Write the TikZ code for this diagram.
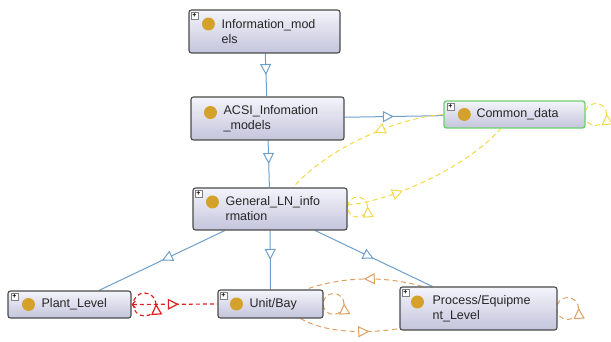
\documentclass[tikz,border=0pt]{standalone}
\usepackage{fontspec}
\setmainfont{Liberation Sans}
\usetikzlibrary{arrows.meta,decorations.markings,backgrounds,calc}
\definecolor{boxborder}{HTML}{4A4A4A}
\definecolor{boxtop}{HTML}{F4F4FB}
\definecolor{boxbot}{HTML}{C4C4DC}
\definecolor{dotgold}{HTML}{D4A12A}
\definecolor{edgeblue}{HTML}{6E9ECB}
\definecolor{ylw}{HTML}{F2D94A}
\definecolor{orng}{HTML}{DDA060}
\definecolor{redd}{HTML}{E32020}
\definecolor{cdgreen}{HTML}{6FD06F}
\begin{document}
\begin{tikzpicture}[x=1pt,y=-1pt,
  clsbox/.style={draw=boxborder, line width=1.1pt, rounded corners=2.5pt, top color=boxtop, bottom color=boxbot, inner sep=0pt},
  clstext/.style={anchor=west, align=left, inner sep=0pt, font=\fontsize{12.5}{15}\selectfont, text=black!85},
  dot/.style={circle, fill=dotgold, minimum size=13pt, inner sep=0pt},
  plusbox/.style={draw=gray, fill=white, minimum size=7pt, inner sep=0pt, font=\fontsize{7}{7}\selectfont\bfseries},
  midtri/.style={postaction={decorate,decoration={markings,mark=at position #1 with {\arrow[solid]{Triangle[fill=white,length=11pt,width=11pt]}}}}},
  isa/.style={draw=edgeblue, line width=1pt, midtri=0.5},
  ydash/.style={draw=ylw, line width=1pt, dash pattern=on 5pt off 3.5pt},
  odash/.style={draw=orng, line width=1pt, dash pattern=on 5pt off 3.5pt},
  rdash/.style={draw=redd, line width=1.2pt, dash pattern=on 4pt off 3pt}]
\useasboundingbox (0,0) rectangle (611,342);

% Information_models
\node[clsbox, minimum width=151pt, minimum height=43pt] (info) at (264.5,31.5) {};
\node[clstext] (infot) at ([xshift=33pt]info.west) {Information\_mod\\els};
\node[dot] (infod) at ([xshift=20pt,yshift=7.5pt]info.west) {};
\node[plusbox] (infop) at ([xshift=6pt,yshift=-6pt]info.north west) {+};

% ACSI
\node[clsbox, minimum width=153pt, minimum height=43pt] (acsi) at (267.5,118.5) {};
\node[clstext] (acsit) at ([xshift=33pt]acsi.west) {ACSI\_Infomation\\\_models};
\node[dot] (acsid) at ([xshift=20pt,yshift=6pt]acsi.west) {};

% Common_data
\node[clsbox, draw=cdgreen, line width=1.4pt, minimum width=141pt, minimum height=27pt] (cd) at (514.5,114.5) {};
\node[clstext] (cdt) at ([xshift=33pt]cd.west) {Common\_data};
\node[dot] (cdd) at ([xshift=21pt]cd.west) {};
\node[plusbox] (cdp) at ([xshift=7pt,yshift=-6pt]cd.north west) {+};

% General_LN_information
\node[clsbox, minimum width=154pt, minimum height=42pt] (gen) at (270,209) {};
\node[clstext] (gent) at ([xshift=33pt]gen.west) {General\_LN\_info\\rmation};
\node[dot] (gend) at ([xshift=20pt,yshift=7pt]gen.west) {};
\node[plusbox] (genp) at ([xshift=6pt,yshift=-6pt]gen.north west) {+};

% Plant_Level
\node[clsbox, minimum width=123pt, minimum height=27pt] (plant) at (69.5,304.5) {};
\node[clstext] (plantt) at ([xshift=34pt]plant.west) {Plant\_Level};
\node[dot] (plantd) at ([xshift=21pt]plant.west) {};
\node[plusbox] (plantp) at ([xshift=7pt,yshift=-6pt]plant.north west) {+};

% Unit/Bay
\node[clsbox, minimum width=105pt, minimum height=28pt] (unit) at (270.5,304) {};
\node[clstext] (unitt) at ([xshift=32pt]unit.west) {Unit/Bay};
\node[dot] (unitd) at ([xshift=19pt]unit.west) {};
\node[plusbox] (unitp) at ([xshift=6pt,yshift=-6pt]unit.north west) {+};

% Process/Equipment_Level
\node[clsbox, minimum width=157pt, minimum height=43pt] (proc) at (478.5,308.5) {};
\node[clstext] (proct) at ([xshift=33pt]proc.west) {Process/Equipme\\nt\_Level};
\node[dot] (procd) at ([xshift=18pt,yshift=6.5pt]proc.west) {};
\node[plusbox] (procp) at ([xshift=6pt,yshift=-6pt]proc.north west) {+};

\begin{scope}[on background layer]
  \draw[isa] (info) -- (acsi);
  \draw[isa] (acsi) -- (gen);
  \draw[isa] (acsi) -- (cd);
  \draw[isa] (gen) -- (plant);
  \draw[isa] (gen) -- (unit);
  \draw[isa] (gen) -- (proc);

  \draw[ydash, midtri=0.42] (cd.west) .. controls +(-45,3) and +(35,-40) .. ([xshift=23pt]gen.north);
  \draw[ydash, midtri=0.33] ([yshift=4pt]gen.east) .. controls +(50,-5) and +(-30,35) .. ([xshift=-14pt]cd.south);
  \draw[ydash, midtri=0.01] ([xshift=10pt]cd.east) circle (11pt);
  \draw[ydash, midtri=0.01] ([xshift=10pt,yshift=2pt]gen.east) circle (10pt);

  \draw[rdash, midtri=0.55, {Straight Barb[length=3pt,width=7pt]}-] (plant.east) -- (unit.west);
  \draw[rdash, midtri=0.01] ([xshift=13pt]plant.east) circle (11.5pt);

  \draw[odash, midtri=0.5] ([xshift=23pt]proc.north west) .. controls +(-35,-10) and +(40,-14) .. ([xshift=-18pt]unit.north east);
  \draw[odash, midtri=0.7] ([xshift=-23pt]unit.south east) .. controls +(25,15) and +(-30,5) .. ([yshift=2pt]proc.south west);
  \draw[odash, midtri=0.01] ([xshift=10pt]unit.east) circle (10.5pt);
  \draw[odash, midtri=0.01] ([xshift=10pt]proc.east) circle (11pt);
\end{scope}
\end{tikzpicture}
\end{document}
